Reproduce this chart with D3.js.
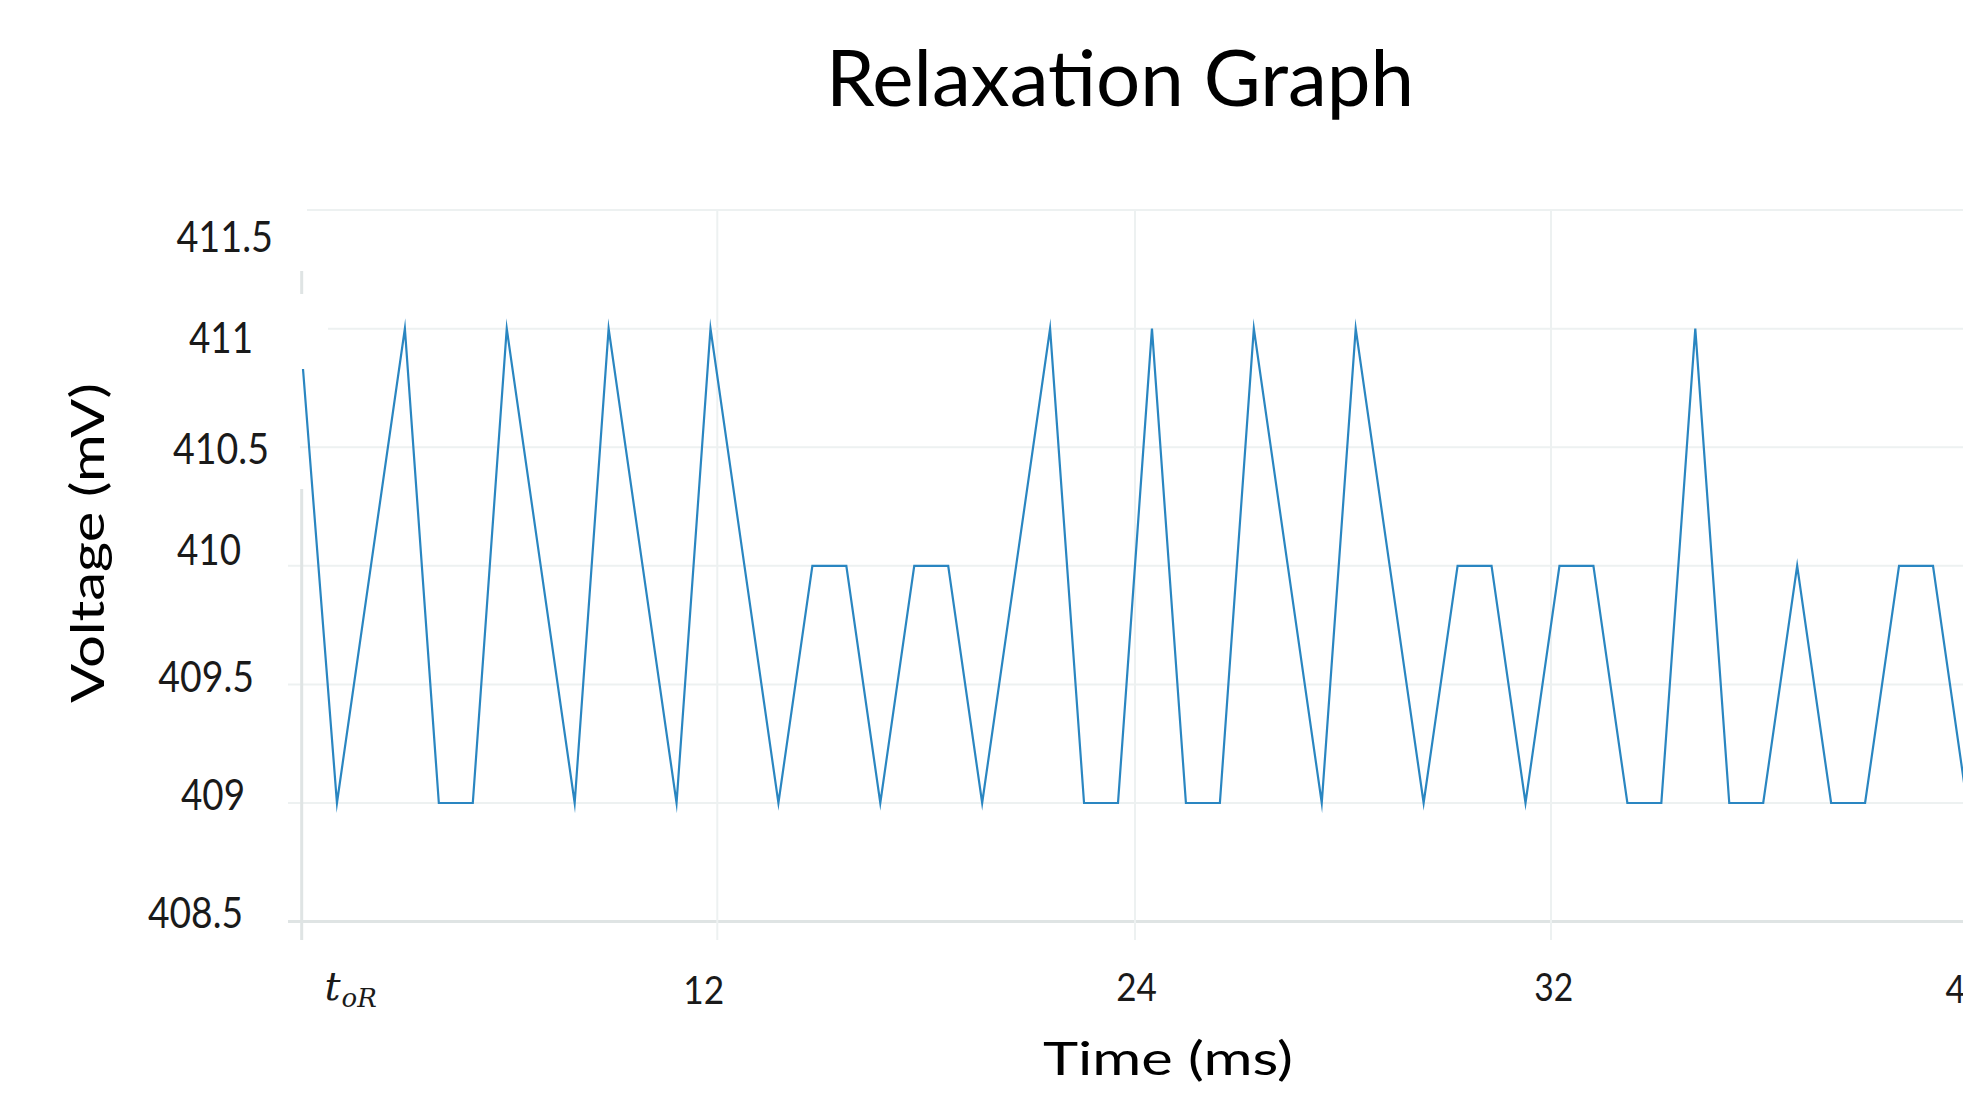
<!DOCTYPE html>
<html>
<head>
<meta charset="utf-8">
<script src="https://cdn.jsdelivr.net/npm/d3@7"></script>
<style>
  html, body { margin: 0; padding: 0; background: #ffffff; overflow: hidden; }
  svg { display: block; }
</style>
</head>
<body>
<svg id="chart" width="1963" height="1094"></svg>
<script>
// ---------------- data ----------------
const voltage = [410.83, 409, 410, 411, 409, 409, 411, 410, 409, 411,
                 410, 409, 411, 410, 409, 410, 410, 409, 410, 410,
                 409, 410, 411, 409, 409, 411, 409, 409, 411, 410,
                 409, 411, 410, 409, 410, 410, 409, 410, 410, 409,
                 409, 411, 409, 409, 410, 409, 409, 410, 410, 409];
const yTicks = [408.5, 409, 409.5, 410, 410.5, 411, 411.5];
const yTickLabels = ["408.5", "409", "409.5", "410", "410.5", "411", "411.5"];
const xTicks = [0, 12.2, 24.5, 36.75, 49];          // grid positions, in sample index
const xTickLabels = ["t_oR", "12", "24", "32", "40"];
const titleText = "Relaxation Graph";
const xTitle = "Time (ms)";
const yTitle = "Voltage (mV)";

// ---------------- layout / style ----------------
const W = 1963, H = 1094;
const FONT = "Lato, 'Open Sans', 'Noto Sans', sans-serif";
const lineColor = "#2a86c1";
const gridColor = "#edf1f1";
const axisColor = "#dfe4e4";

const svg = d3.select("#chart");

const x = d3.scaleLinear().domain([0, 48]).range([303, 1933]);
const y = d3.scaleLinear().domain([408.5, 411.5]).range([921.6, 210.1]);

// per-label placement quirks of the original picture
const yLabelRight = [243, 245, 254, 241, 269, 253, 273];
const yLabelBase  = [5.4, 6, 6.6, -1.8, 16.4, 23.4, 41.6];
const yLabelWidth = [95, 64, 95.7, 64, 96, 64, 96.6];
const yGridStart  = [288, 288, 288, 288, 300, 328, 307];

const xLabelDx    = [0, -14, 1, 2.3, -2];
const xLabelBase  = [1000, 1004, 1000.7, 1000.7, 1002.7];
const xLabelWidth = [0, 41, 40.7, 39, 40];

// ---------------- horizontal grid ----------------
const gridG = svg.append("g");
gridG.selectAll("line.h")
  .data(yTicks)
  .join("line")
  .attr("class", "h")
  .attr("x1", (d, i) => yGridStart[i])
  .attr("x2", W)
  .attr("y1", d => y(d))
  .attr("y2", d => y(d))
  .attr("stroke", (d, i) => i === 0 ? axisColor : gridColor)
  .attr("stroke-width", (d, i) => i === 0 ? 3 : 2);

// ---------------- vertical grid ----------------
gridG.selectAll("line.v")
  .data(xTicks.slice(1))
  .join("line")
  .attr("class", "v")
  .attr("x1", d => x(d))
  .attr("x2", d => x(d))
  .attr("y1", y(411.5))
  .attr("y2", 940)
  .attr("stroke", gridColor)
  .attr("stroke-width", 2);

// left axis line (broken as in the original)
const ax0 = x(xTicks[0]) - 1.3;
[[271, 294], [489, 940]].forEach(seg => {
  gridG.append("line")
    .attr("x1", ax0).attr("x2", ax0)
    .attr("y1", seg[0]).attr("y2", seg[1])
    .attr("stroke", axisColor).attr("stroke-width", 3);
});

// ---------------- data line ----------------
const line = d3.line()
  .x((d, i) => x(i))
  .y(d => y(d));

svg.append("path")
  .datum(voltage)
  .attr("d", line)
  .attr("fill", "none")
  .attr("stroke", lineColor)
  .attr("stroke-width", 2.2)
  .attr("stroke-linejoin", "miter")
  .attr("stroke-miterlimit", 10);

// ---------------- y axis labels ----------------
const yAxisG = svg.append("g")
  .call(d3.axisLeft(y).tickValues(yTicks).tickFormat((d, i) => yTickLabels[i]).tickSize(0));
yAxisG.select(".domain").remove();
yAxisG.selectAll(".tick line").remove();
yAxisG.selectAll(".tick text")
  .each(function (d, i) {
    d3.select(this)
      .attr("x", yLabelRight[i])
      .attr("y", yLabelBase[i])
      .attr("dy", 0)
      .attr("text-anchor", "end")
      .attr("textLength", yLabelWidth[i])
      .attr("lengthAdjust", "spacingAndGlyphs");
  })
  .style("font-family", FONT)
  .style("font-size", "42px")
  .attr("fill", "#1a1a1a");

// ---------------- x axis labels ----------------
const xAxisG = svg.append("g")
  .call(d3.axisBottom(x).tickValues(xTicks).tickFormat((d, i) => xTickLabels[i]).tickSize(0));
xAxisG.select(".domain").remove();
xAxisG.selectAll(".tick line").remove();
xAxisG.selectAll(".tick text")
  .each(function (d, i) {
    const t = d3.select(this)
      .attr("x", xLabelDx[i])
      .attr("y", xLabelBase[i])
      .attr("dy", 0)
      .attr("fill", "#1a1a1a");
    if (i === 0) {
      // math-style label t_oR
      const parts = xTickLabels[0].split("_");
      t.text(null)
        .attr("text-anchor", "start")
        .attr("x", 21)
        .style("font-family", "'DejaVu Serif', 'Liberation Serif', serif")
        .style("font-style", "italic");
      t.append("tspan").text(parts[0]).style("font-size", "40px");
      t.append("tspan").text(parts[1]).attr("dy", 7).attr("dx", 1).style("font-size", "26px");
    } else {
      t.attr("text-anchor", "middle")
        .attr("textLength", xLabelWidth[i])
        .attr("lengthAdjust", "spacingAndGlyphs")
        .style("font-family", FONT)
        .style("font-size", "39px");
    }
  });

// ---------------- titles ----------------
svg.append("text")
  .attr("x", 1120)
  .attr("y", 106)
  .attr("text-anchor", "middle")
  .attr("textLength", 588)
  .attr("lengthAdjust", "spacingAndGlyphs")
  .style("font-family", FONT)
  .style("font-size", "78px")
  .attr("fill", "#000")
  .text(titleText);

svg.append("text")
  .attr("x", 1168)
  .attr("y", 1075)
  .attr("text-anchor", "middle")
  .attr("textLength", 250)
  .attr("lengthAdjust", "spacingAndGlyphs")
  .style("font-family", FONT)
  .style("font-size", "46px")
  .attr("fill", "#000")
  .text(xTitle);

svg.append("text")
  .attr("transform", "translate(103.5,543) rotate(-90)")
  .attr("text-anchor", "middle")
  .attr("textLength", 320)
  .attr("lengthAdjust", "spacingAndGlyphs")
  .style("font-family", FONT)
  .style("font-size", "46px")
  .attr("fill", "#000")
  .text(yTitle);
</script>
</body>
</html>
